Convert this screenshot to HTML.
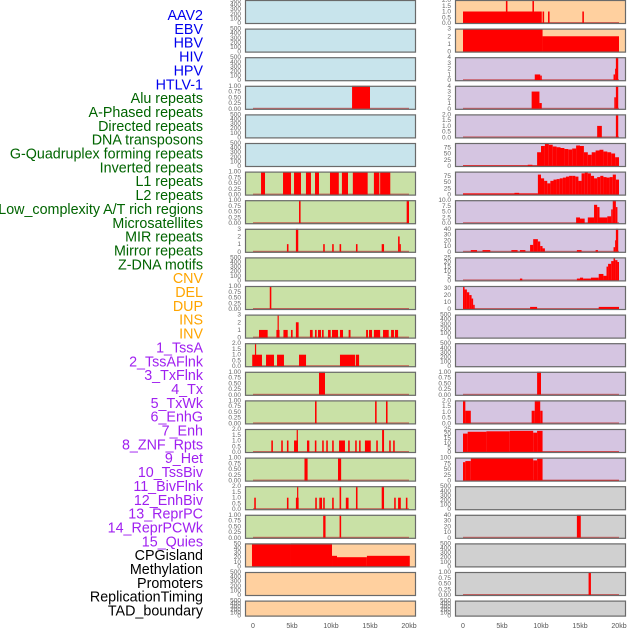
<!DOCTYPE html>
<html><head><meta charset="utf-8"><style>
body{margin:0;background:#fff;width:630px;height:630px;overflow:hidden}
svg{display:block}
</style></head><body>
<svg id="chart" width="630" height="630" xmlns="http://www.w3.org/2000/svg"></svg>
<script>
const labels=["AAV2","EBV","HBV","HIV","HPV","HTLV-1","Alu repeats","A-Phased repeats","Directed repeats","DNA transposons","G-Quadruplex forming repeats","Inverted repeats","L1 repeats","L2 repeats","Low_complexity A/T rich regions","Microsatellites","MIR repeats","Mirror repeats","Z-DNA motifs","CNV","DEL","DUP","INS","INV","1_TssA","2_TssAFlnk","3_TxFlnk","4_Tx","5_TxWk","6_EnhG","7_Enh","8_ZNF_Rpts","9_Het","10_TssBiv","11_BivFlnk","12_EnhBiv","13_ReprPC","14_ReprPCWk","15_Quies","CPGisland","Methylation","Promoters","ReplicationTiming","TAD_boundary"];
const labelColors=[];
labels.forEach((l,i)=>labelColors.push(i<6?"#0000ee":i<19?"#006400":i<24?"#ffa500":i<39?"#a020f0":"#000"));
const xTicks=[0,5,10,15,20];
const xTickLabels=["0","5kb","10kb","15kb","20kb"];
const leftBg=["#c8e4ec","#c8e4ec","#c8e4ec","#c8e4ec","#c8e4ec","#c8e4ec","#c9e1a6","#c9e1a6","#c9e1a6","#c9e1a6","#c9e1a6","#c9e1a6","#c9e1a6","#c9e1a6","#c9e1a6","#c9e1a6","#c9e1a6","#c9e1a6","#c9e1a6","#ffd09f","#ffd09f","#ffd09f"];
const rightBg=["#ffd09f","#ffd09f","#d5c5e1","#d5c5e1","#d5c5e1","#d5c5e1","#d5c5e1","#d5c5e1","#d5c5e1","#d5c5e1","#d5c5e1","#d5c5e1","#d5c5e1","#d5c5e1","#d5c5e1","#d5c5e1","#d5c5e1","#d0d0d0","#d0d0d0","#d0d0d0","#d0d0d0","#d0d0d0"];
const E=[0,100,200,300,400,500], T1=[0,0.25,0.5,0.75,1], T1L=["0.00","0.25","0.50","0.75","1.00"], T2=[0,0.5,1,1.5,2], T2L=["0.0","0.5","1.0","1.5","2.0"];
const leftTicks=[E,E,E,T1,E,E,T1,T1,[0,1,2,3],E,T1,[0,1,2,3],T2,T1,T1,T2,T1,T2,T1,[0,10,20,30,40,50],E,E];
const leftTickLabels=[null,null,null,T1L,null,null,T1L,T1L,null,null,T1L,null,T2L,T1L,T1L,T2L,T1L,T2L,T1L,null,null,null];
const leftMax=[500,500,500,1,500,500,1,1,3,500,1,3,2,1,1,2,1,2,1,50,500,500];
const rightTicks=[T2,[0,1,2,3],[0,1,2,3,4],[0,1,2,3,4],T2,[0,25,50,75],[0,25,50,75],[0,2.5,5,7.5,10],[0,10,20,30,40],[0,5,10,15,20,25],[0,10,20,30],E,E,T1,T2,[0,5,10,15,20,25],[0,25,50,75,100],E,[0,10,20,30,40],E,T1,E];
const rightTickLabels=[T2L,null,null,null,T2L,null,null,["0.0","2.5","5.0","7.5","10.0"],null,null,null,null,null,T1L,T2L,null,null,null,null,null,T1L,null];
const rightMax=[2,3,4,4,2,92,92,10,40,25,33,500,500,1,2,25,100,500,40,500,1,500];
// segments: [startKb, endKb, value]
const leftSeg=[[],[],[],[[12.7,15.0,1]],[],[],
[[1.03,1.54,1],[3.85,4.87,1],[5.26,6.15,1],[6.79,7.43,1],[7.95,8.46,1],[9.87,11.0,1],[11.4,12.18,1],[12.8,14.7,1],[15.5,16.2,1],[16.3,17.6,1]],
[[5.9,6.1,1],[19.7,20.0,1]],
[[4.35,4.55,1],[5.5,5.8,3],[9.0,9.2,1],[10.15,10.35,1],[11.1,11.3,1],[13.2,13.4,1],[16.5,16.8,1],[18.6,18.8,2],[18.8,18.9,1]],
[],
[[2.15,2.35,1]],
[[0.77,1.88,1],[3.0,3.4,1],[3.15,3.25,3],[3.9,4.45,1],[4.87,5.08,1],[5.5,5.85,2],[7.3,7.65,1],[7.95,8.16,1],[8.33,8.72,1],[8.85,9.06,1],[9.62,9.96,1],[10.13,10.9,1],[11.15,11.54,1],[12.26,12.5,1],[14.5,14.74,1],[14.87,15.26,1],[15.5,16.3,1],[16.67,17.4,1],[17.7,18.07,1],[18.2,18.6,1]],
[[-0.1,1.15,1],[0.25,0.35,2],[1.67,2.69,1],[3.08,3.97,1],[5.9,6.8,1],[11.15,13.1,1],[13.2,13.6,1]],
[[8.46,9.23,1]],
[[7.95,8.15,1],[15.65,15.85,1],[17.05,17.25,1]],
[[2.35,2.55,1],[3.62,3.82,1],[4.35,4.55,1],[5.26,5.77,1],[5.6,5.75,2],[6.92,7.22,1],[7.93,8.13,1],[8.87,9.07,1],[9.39,9.59,1],[10.15,10.35,1],[11.03,11.79,1],[12.2,12.4,1],[13.1,13.3,1],[13.6,13.8,1],[14.35,15.1,1],[15.8,16.0,1],[16.55,16.8,2],[17.46,17.66,1],[17.97,18.17,1]],
[[6.6,7.0,1],[10.9,11.3,1]],
[[0.16,0.36,1],[4.35,4.55,1],[5.5,5.85,1],[5.65,5.75,2],[7.98,8.18,1],[8.5,8.85,1],[9.0,9.2,1],[10.15,10.35,1],[11.1,11.3,2],[11.9,12.25,1],[13.2,13.4,2],[16.5,16.8,2],[18.1,18.3,1],[18.6,18.95,1],[19.6,19.8,1]],
[[9.0,9.3,1],[11.1,11.3,1]],
[[-0.13,4.87,48],[4.87,10.13,50],[10.13,10.77,23],[10.77,14.6,20],[14.6,20.1,23]],
[],[]];
const r5vals=[55,80,90,85,78,75,72,68,66,70,82,80,55,45,55,62,65,58,55,50,35];
const r6vals=[80,65,55,45,55,60,62,65,68,72,75,75,72,55,85,90,85,75,65,70,75,70,68,70,80,60];
const r5=[[0,9.5,2],[8.3,8.9,5]]; r5vals.forEach((v,i)=>r5.push([9.5+i*0.5,10+i*0.5,v]));
const r6=[[0,9.6,5],[6.6,7.2,7]]; r6vals.forEach((v,i)=>r6.push([9.6+i*0.4,10+i*0.4,v]));
const rightSeg=[
[[0,10.1,1],[5.5,5.7,2],[8.9,9.1,2],[10.2,10.4,1],[10.9,11.1,1],[15.3,15.5,1]],
[[0,10.2,3],[10.2,20,2]],
[[9.2,9.9,1],[9.9,10.1,0.8],[19.3,19.5,1],[19.5,19.6,2],[19.6,19.9,4]],
[[8.8,9.8,3],[9.8,10.1,1],[19.4,19.6,2],[19.6,19.9,4]],
[[17.2,17.8,1],[19.6,19.9,2]],
r5,r6,
[[14.5,15,2.5],[15,15.6,2],[16,16.8,2.5],[16.8,17.2,8],[17.2,17.5,7],[17.5,18.5,2.5],[18.5,19,3],[19,19.2,6],[19.2,19.6,10],[19.6,19.8,7]],
[[1,1.8,3],[2.5,3.5,3],[6.2,7,3],[7.3,8,3],[8.6,9,12],[9,9.6,22],[9.6,9.9,18],[9.9,10.2,10],[10.2,10.5,6],[14.6,15.2,3],[17,17.3,3],[19.3,19.5,8],[19.5,19.6,20],[19.6,19.9,40]],
[[7.3,7.6,2],[14.6,15,2],[15,15.4,3],[15.4,16.4,2],[16.4,17.4,3],[17.4,18,7],[18,18.4,5],[18.4,18.6,15],[18.6,19,18],[19,19.3,21],[19.3,19.5,24],[19.5,19.8,22],[19.8,20,20]],
[[0,0.2,32],[0.2,0.5,28],[0.5,0.8,24],[0.8,1.1,20],[1.1,1.3,15],[1.3,1.5,6],[8.6,9.5,3],[17.4,20,3]],
[],[],
[[9.5,10,1]],
[[0,0.3,2],[0.3,1,1.1],[8.8,9.2,1.1],[9.2,9.9,2],[9.9,10.2,1.1]],
[[0,0.6,20],[0.6,3,22],[3,6,22.5],[6,9,23],[9,9.5,21],[9.5,10.2,23],[10.2,20,0.3]],
[[0,0.3,80],[0.3,1,85],[1,9,100],[9,9.5,88],[9.5,10.2,95],[10.2,20,2]],
[],
[[14.6,15.1,40]],
[],
[[16.1,16.4,1]],
[]];
const svg=document.getElementById('chart');
const NS="http://www.w3.org/2000/svg";
function mk(tag,attrs,parent){const e=document.createElementNS(NS,tag);for(const k in attrs)e.setAttribute(k,attrs[k]);(parent||svg).appendChild(e);return e;}
labels.forEach((l,i)=>{
  const t=mk('text',{x:203,y:20+i*13.85,'text-anchor':'end','font-family':'Liberation Sans, sans-serif','font-size':14.3,fill:labelColors[i]});
  t.textContent=l;
  
  
});
function panel(col,row,bg,ticks,tickLabels,ymax,segs){
  const px=col===0?245:455, pw=171, x0=col===0?253:463, kb=7.8;
  const top=row*28.6, h=row===21?16:24;
  const g=mk('g',{});
  
  
  mk('rect',{x:px,y:top,width:pw,height:h,fill:bg},g);
  const yb=top+h-1, ys=v=>yb-(v/ymax)*(h-1);
  if(segs.length){
    mk('rect',{x:x0,y:yb-1,width:20*kb,height:1.2,fill:'#c03030',opacity:0.7},g);
  }
  segs.forEach(s=>{
    const x1=x0+s[0]*kb, x2=x0+s[1]*kb;
    const r=mk('rect',{x:x1,y:ys(s[2]),width:Math.max(1.2,x2-x1),height:yb-ys(s[2]),fill:'#ff0000'},g);
    
    
  });
  mk('rect',{x:px+0.5,y:top+0.5,width:pw-1,height:h-1,fill:'none',stroke:'#6a6a6a','stroke-width':1.2},g);
  ticks.forEach((tv,j)=>{
    const t=mk('text',{x:px-4,y:ys(tv)+2,'text-anchor':'end','font-family':'Liberation Sans, sans-serif','font-size':6.5,fill:'#666'},g);
    t.textContent=tickLabels?tickLabels[j]:String(tv);
    
    
  });
}
for(let r=0;r<22;r++){
  panel(0,r,leftBg[r],leftTicks[r],leftTickLabels[r],leftMax[r],leftSeg[r]);
  panel(1,r,rightBg[r],rightTicks[r],rightTickLabels[r],rightMax[r],rightSeg[r]);
}
[253,463].forEach(x0=>{
  xTicks.forEach((v,i)=>{
    const t=mk('text',{x:x0+v*7.8,y:628,'text-anchor':'middle','font-family':'Liberation Sans, sans-serif','font-size':7,fill:'#555'});
    t.textContent=xTickLabels[i];
    
    
  });
});
</script>
</body></html>
